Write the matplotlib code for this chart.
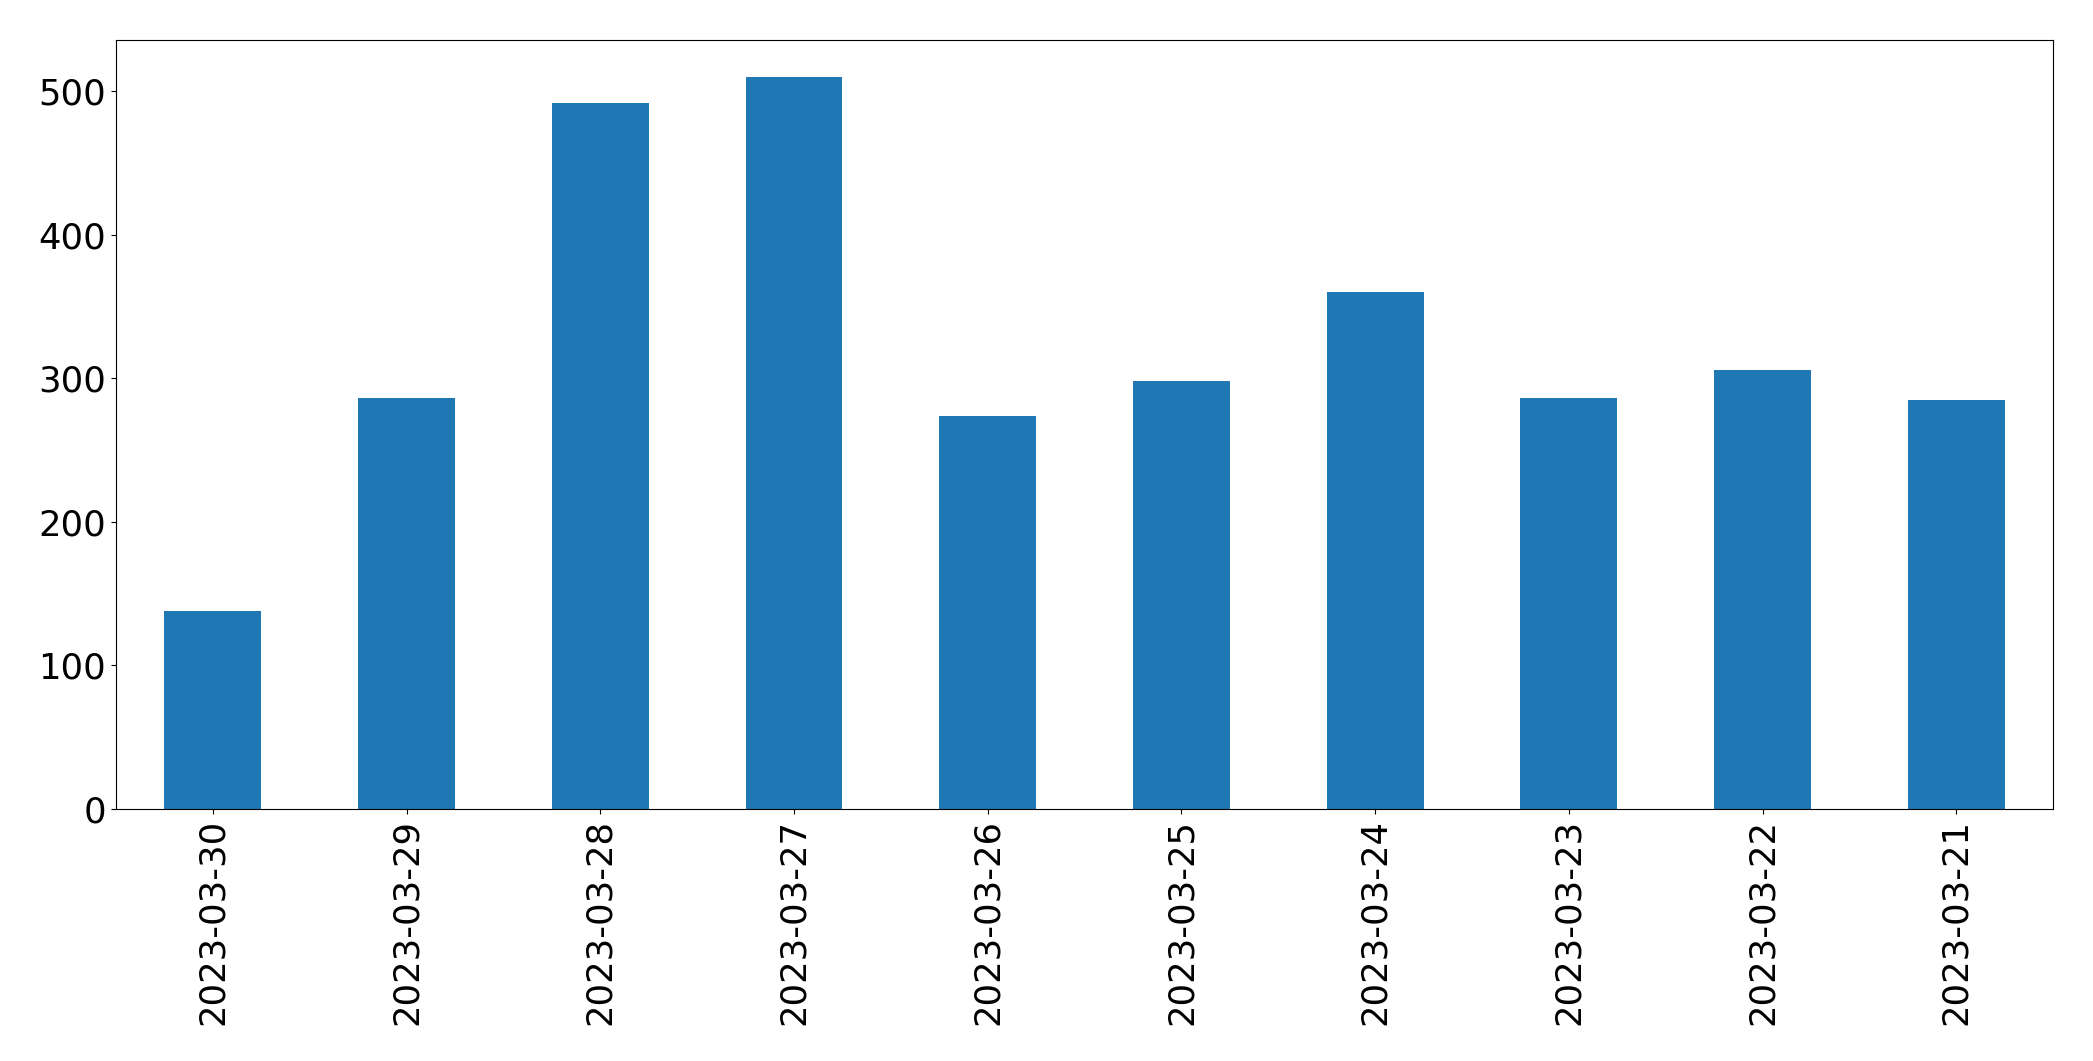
import matplotlib
matplotlib.use('Agg')
from matplotlib import pyplot as plt

# Daily counts, newest first
dates = ['2023-03-30', '2023-03-29', '2023-03-28', '2023-03-27', '2023-03-26',
         '2023-03-25', '2023-03-24', '2023-03-23', '2023-03-22', '2023-03-21']
counts = [138, 286, 492, 510, 274, 298, 360, 286, 306, 285]

fig, ax = plt.subplots(figsize=(20.93, 10.61), dpi=100)
positions = range(len(dates))
ax.bar(positions, counts, width=0.5, color='#1f77b4')
ax.set_xlim(-0.5, len(dates) - 0.5)
ax.set_xticks(list(positions))
ax.set_xticklabels(dates, rotation=90)
ax.tick_params(axis='both', which='major', labelsize=25.5)

fig.subplots_adjust(left=0.0554, right=0.981, top=0.962, bottom=0.2375)
fig.savefig('out.png', dpi=100)
